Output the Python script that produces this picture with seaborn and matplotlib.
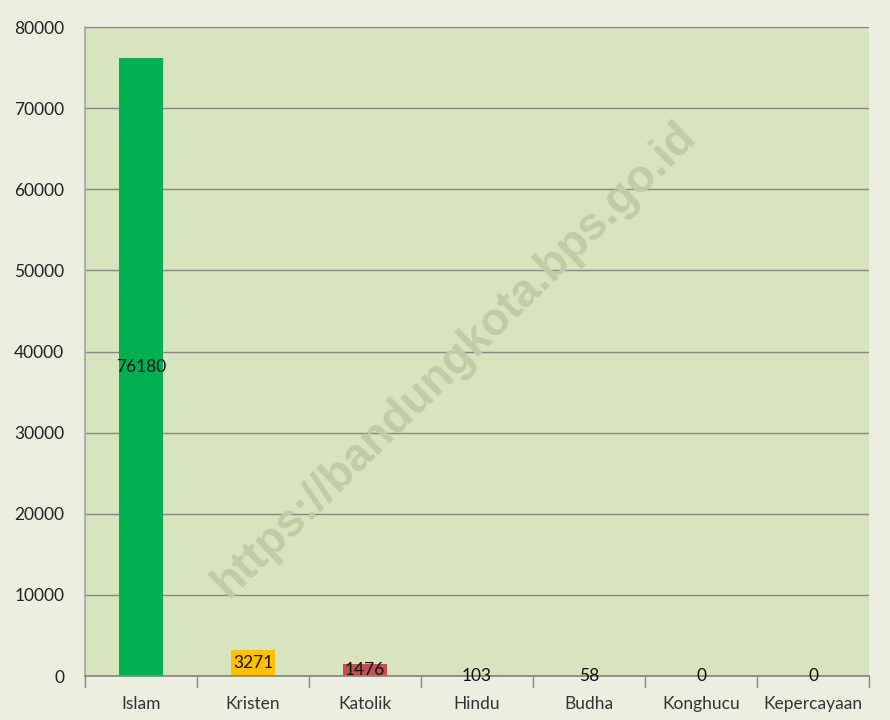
import matplotlib
matplotlib.use("Agg")
import matplotlib.pyplot as plt
import seaborn as sns
import pandas as pd

# data
agama = ["Islam", "Kristen", "Katolik", "Hindu", "Budha", "Konghucu", "Kepercayaan"]
jumlah = [76180, 3271, 1476, 103, 58, 0, 0]
warna = ["#00B050", "#FFC000", "#C0504D", "#9BBB59", "#9BBB59", "#9BBB59", "#9BBB59"]
yticks = [0, 10000, 20000, 30000, 40000, 50000, 60000, 70000, 80000]

df = pd.DataFrame({"agama": agama, "jumlah": jumlah})

sns.set_theme(style="white")
plt.rcParams["font.family"] = ["Lato", "DejaVu Sans"]

fig = plt.figure(figsize=(8.9, 7.2), dpi=100, facecolor="#ECEEDF")
ax = fig.add_axes([0.0955, 0.061, 0.881, 0.9015])
ax.set_facecolor("#D8E4BD")

sns.barplot(data=df, x="agama", y="jumlah", hue="agama", palette=warna,
            legend=False, width=0.4, saturation=1, linewidth=0, ax=ax)

ax.set_ylim(0, 80000)
ax.set_xlim(-0.5, len(agama) - 0.5)
ax.set_yticks(yticks)
ax.set_yticklabels([str(v) for v in yticks], fontsize=12.5, color="#222222")
ax.set_xlabel("")
ax.set_ylabel("")
ax.tick_params(axis="x", length=0, labelsize=12.5, labelcolor="#333333", pad=14)
ax.tick_params(axis="y", length=5, color="#868686", direction="out", width=1, pad=10)
ax.yaxis.grid(True, color="#868686", linewidth=1)
ax.set_axisbelow(True)

# category separator ticks on the x axis
for i in range(len(agama) + 1):
    ax.plot([i - 0.5, i - 0.5], [0, -1300], color="#868686", lw=1, clip_on=False)

for s in ["top", "right"]:
    ax.spines[s].set_visible(False)
ax.spines["left"].set_color("#A6A6A6")
ax.spines["bottom"].set_color("#868686")

# value labels centred on each bar
for i, v in enumerate(jumlah):
    ax.text(i, v / 2, str(v), ha="center", va="center", fontsize=12.5, color="#111111")

# watermark
ax.text(0.472, 0.487, "https://bandungkota.bps.go.id", transform=ax.transAxes,
        rotation=44.5, ha="center", va="center", fontsize=33, fontweight="bold",
        family=["Liberation Sans", "DejaVu Sans"], color="#C0CCA6",
        rotation_mode="anchor")

fig.savefig("out.png", dpi=100, facecolor=fig.get_facecolor())
